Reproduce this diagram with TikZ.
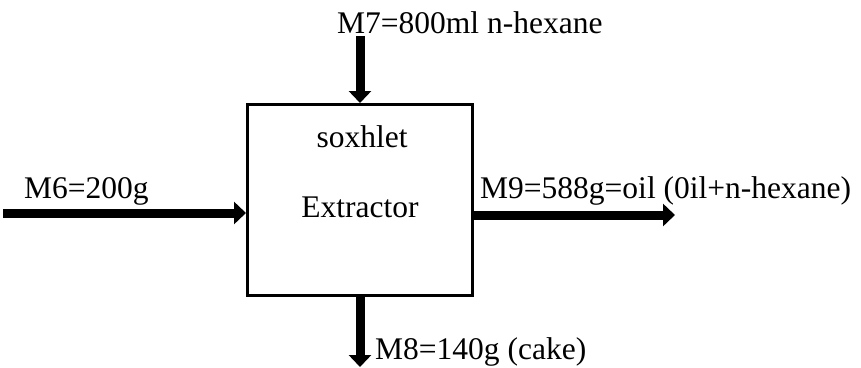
\documentclass[tikz,border=0pt]{standalone}
\usepackage{fontspec}
\setmainfont{Liberation Serif}
\usetikzlibrary{arrows.meta, positioning}

\tikzset{
  flow/.style={line width=9pt, -{Triangle[length=12pt,width=22pt]}},
  lbl/.style={inner sep=0pt, font=\fontsize{31.5}{36}\selectfont},
}

\begin{document}
\begin{tikzpicture}[x=1pt, y=-1pt]
    \useasboundingbox (0,0) rectangle (861,367);
    % extractor unit
    \node[draw, line width=3pt, minimum width=225pt, minimum height=191pt, inner sep=0pt] (ext) at (360,200) {};
    \node[lbl, anchor=base] (soxh) at (362,147) {soxhlet};
    \node[lbl, anchor=base] (extr) at (360,217) {Extractor};

    % streams
    \coordinate (m7in) at (360,36);
    \coordinate (m6in) at (3,213);
    \coordinate (m9out) at (675,215);
    \coordinate (m8out) at (360,367);
    \draw[flow] (m7in) -- (ext.north);
    \draw[flow] (m6in) -- (m6in -| ext.west);
    \draw[flow] (m9out -| ext.east) -- (m9out);
    \draw[flow] (ext.south) -- (m8out);

    \node[lbl, anchor=base west] (m7) at (337,33) {M7=800ml n-hexane};
    \node[lbl, anchor=base west] (m6) at (24,198) {M6=200g};
    \node[lbl, anchor=base west] (m9) at (480,198) {M9=588g=oil (0il+n-hexane)};
    \node[lbl, anchor=base west] (m8) at (375,359) {M8=140g (cake)};
\end{tikzpicture}
\end{document}
